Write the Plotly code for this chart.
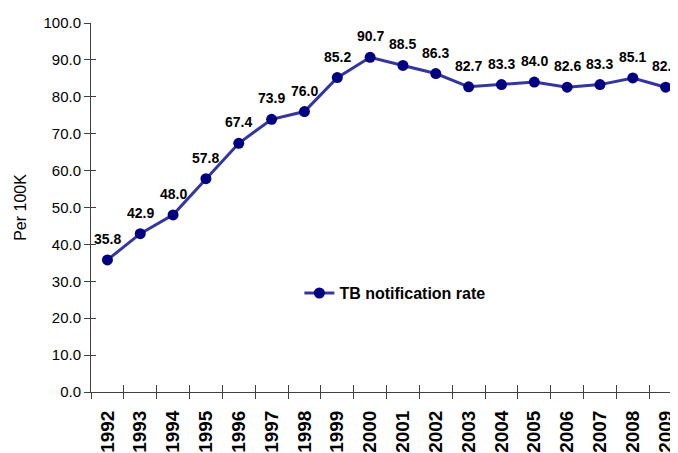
import plotly.graph_objects as go

years = [str(y) for y in range(1992, 2010)]
rates = [35.8, 42.9, 48.0, 57.8, 67.4, 73.9, 76.0, 85.2, 90.7, 88.5,
         86.3, 82.7, 83.3, 84.0, 82.6, 83.3, 85.1, 82.6]
y_ticks = [0, 10, 20, 30, 40, 50, 60, 70, 80, 90, 100]
series_name = "TB notification rate"
y_title = "Per 100K"

FONT = "Liberation Sans, Arial, sans-serif"
AXIS_COLOR = "#404040"
xrange = [-0.5, 17.376]
yrange = [0, 100]

fig = go.Figure()
fig.add_trace(go.Scatter(
    x=years, y=rates, mode="lines+markers", name=series_name,
    line=dict(color="#3535A0", width=3),
    marker=dict(color="#000080", size=11),
    cliponaxis=False,
))

annotations = [
    dict(x=i, y=v, xref="x", yref="y", text=f"{v:.1f}", showarrow=False,
         yanchor="middle", xanchor="center", yshift=21,
         font=dict(family=FONT, size=14, color="#000000", weight="bold"))
    for i, v in enumerate(rates)
]

# the page body adds an 8px offset, so the figure is sized to fit the window
fig.update_layout(
    width=670, height=445,
    margin=dict(l=83, r=0, t=15, b=61),
    paper_bgcolor="white", plot_bgcolor="white",
    font=dict(family=FONT, color="#000000"),
    showlegend=True,
    legend=dict(x=0.355, y=0.268, xanchor="left", yanchor="middle",
                bgcolor="rgba(0,0,0,0)",
                font=dict(family=FONT, size=16, color="#000000", weight="bold")),
    annotations=annotations,
    xaxis=dict(
        type="category", categoryarray=years, range=xrange, automargin=False,
        showline=True, linecolor=AXIS_COLOR, linewidth=1,
        ticks="outside", ticklen=6, tickcolor=AXIS_COLOR, tickson="boundaries",
        tickangle=-90, showgrid=False, zeroline=False,
        tickfont=dict(family=FONT, size=19, color="#000000", weight="bold"),
        ticklabelstandoff=10,
    ),
    xaxis2=dict(
        type="category", categoryarray=years, range=xrange, overlaying="x",
        anchor="y", side="bottom", showline=False, automargin=False,
        ticks="inside", ticklen=7, tickcolor=AXIS_COLOR, tickson="boundaries",
        showticklabels=False, showgrid=False, zeroline=False,
    ),
    yaxis=dict(
        range=yrange, tickvals=y_ticks, tickformat=".1f", automargin=False,
        showline=True, linecolor=AXIS_COLOR, linewidth=1,
        ticks="outside", ticklen=6, tickcolor=AXIS_COLOR,
        showgrid=False, zeroline=False,
        tickfont=dict(family=FONT, size=15, color="#000000"),
        title=dict(text=y_title, standoff=12,
                   font=dict(family=FONT, size=16, color="#000000")),
    ),
    yaxis2=dict(
        range=yrange, tickvals=y_ticks, overlaying="y", anchor="x", side="left",
        showline=False, ticks="inside", ticklen=5, tickcolor=AXIS_COLOR,
        automargin=False,
        showticklabels=False, showgrid=False, zeroline=False,
    ),
)

# invisible helper trace so the overlay axes draw their tick marks
fig.add_trace(go.Scatter(
    x=years, y=rates, xaxis="x2", yaxis="y2", mode="markers",
    marker=dict(opacity=0), showlegend=False, hoverinfo="skip",
))

fig.write_html("out.html")
